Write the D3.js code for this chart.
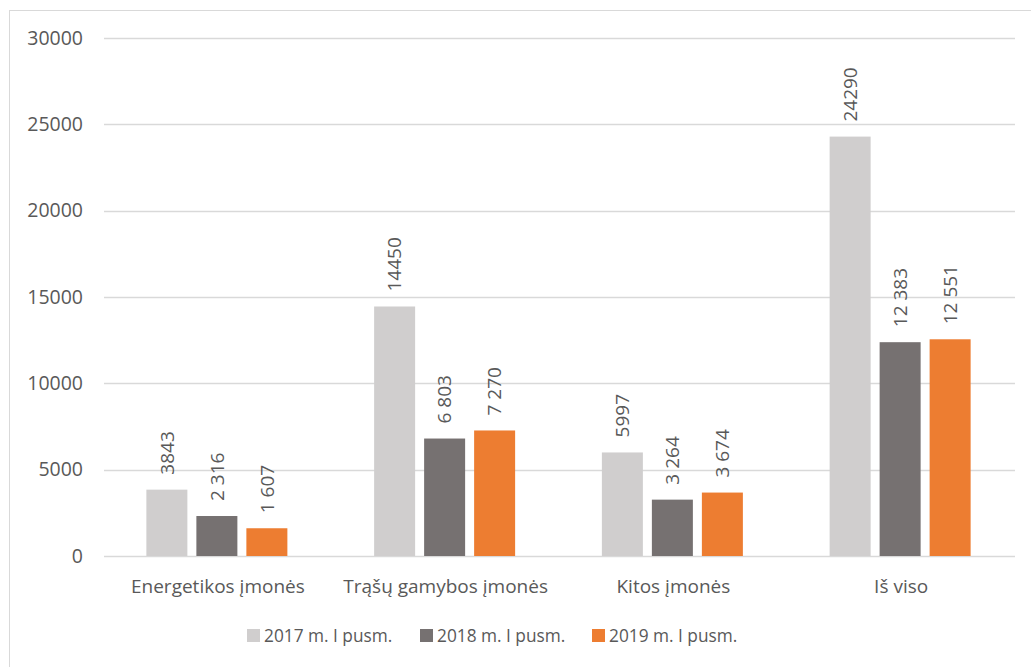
<!DOCTYPE html>
<html>
<head>
<meta charset="utf-8">
<script src="https://cdn.jsdelivr.net/npm/d3@7"></script>
<style>
  body { margin: 0; background: #fff; }
  svg text { font-family: "Open Sans", "Noto Sans", sans-serif; fill: #595959; }
</style>
</head>
<body>
<svg width="1031" height="667"></svg>
<script>
var categories = ["Energetikos įmonės", "Trąšų gamybos įmonės", "Kitos įmonės", "Iš viso"];
var series = ["2017 m. I pusm.", "2018 m. I pusm.", "2019 m. I pusm."];
var values2017 = [3843, 14450, 5997, 24290];
var values2018 = [2316, 6803, 3264, 12383];
var values2019 = [1607, 7270, 3674, 12551];
var labels2017 = ["3843", "14450", "5997", "24290"];
var labels2018 = ["2 316", "6 803", "3 264", "12 383"];
var labels2019 = ["1 607", "7 270", "3 674", "12 551"];
var yTicks = [0, 5000, 10000, 15000, 20000, 25000, 30000];
var colors = ["#d0cece", "#767171", "#ed7d31"];

var allValues = [values2017, values2018, values2019];
var allLabels = [labels2017, labels2018, labels2019];

var svg = d3.select("svg"),
    margin = {top: 38, right: 16, bottom: 111, left: 104},
    width = +svg.attr("width") - (margin.left + margin.right),
    height = +svg.attr("height") - (margin.top + margin.bottom);

// outer chart border
svg.append("rect")
    .attr("x", 9.5).attr("y", 10.5)
    .attr("width", 1040).attr("height", 680)
    .attr("fill", "none")
    .attr("stroke", "#d9d9d9");

var x0 = d3.scaleBand().domain(categories).range([0, width]);
var groupW = 141;
var x1 = d3.scaleBand().domain(series)
    .range([(x0.bandwidth() - groupW) / 2 - 1, (x0.bandwidth() + groupW) / 2 - 1])
    .paddingInner(9 / 50);
var y = d3.scaleLinear().domain([0, 30000]).range([height, 0]);

var g = svg.append("g").attr("transform", "translate(" + margin.left + "," + margin.top + ")");

// grid lines
g.selectAll("line.grid")
    .data(yTicks)
    .enter().append("line")
    .attr("class", "grid")
    .attr("x1", 0).attr("x2", width)
    .attr("y1", function(d) { return Math.round(y(d)) + 0.5; })
    .attr("y2", function(d) { return Math.round(y(d)) + 0.5; })
    .attr("stroke", "#d9d9d9")
    .attr("stroke-width", 1.3);

// y axis labels
var yAxis = g.append("g")
    .call(d3.axisLeft(y).tickValues(yTicks).tickSize(0).tickPadding(21).tickFormat(d3.format("d")));
yAxis.select(".domain").remove();
yAxis.selectAll("text").style("font-size", "19.5px").attr("fill", "#595959");

// x axis labels
var xAxis = g.append("g")
    .attr("transform", "translate(0," + height + ")")
    .call(d3.axisBottom(x0).tickSize(0).tickPadding(24));
xAxis.select(".domain").remove();
xAxis.selectAll("text").style("font-size", "19px").attr("fill", "#595959");

// bars and labels
series.forEach(function(s, si) {
    var sg = g.append("g");
    sg.selectAll("rect")
        .data(allValues[si])
        .enter().append("rect")
        .attr("x", function(d, i) { return x0(categories[i]) + x1(s); })
        .attr("y", function(d) { return y(d); })
        .attr("width", x1.bandwidth())
        .attr("height", function(d) { return y(0) - y(d); })
        .attr("fill", colors[si]);

    sg.selectAll("text")
        .data(allValues[si])
        .enter().append("text")
        .attr("transform", function(d, i) {
            var cx = x0(categories[i]) + x1(s) + x1.bandwidth() / 2;
            return "translate(" + cx + "," + (y(d) - 15) + ") rotate(-90)";
        })
        .attr("dy", "0.35em")
        .style("font-size", "19px")
        .text(function(d, i) { return allLabels[si][i]; });
});

// legend
var legendX = [247, 420, 592];
var legend = svg.append("g");
series.forEach(function(s, si) {
    legend.append("rect")
        .attr("x", legendX[si]).attr("y", 629)
        .attr("width", 13).attr("height", 13)
        .attr("fill", colors[si]);
    legend.append("text")
        .attr("x", legendX[si] + 17).attr("y", 636)
        .attr("dy", "0.35em")
        .style("font-size", "17.3px")
        .text(s);
});
</script>
</body>
</html>
